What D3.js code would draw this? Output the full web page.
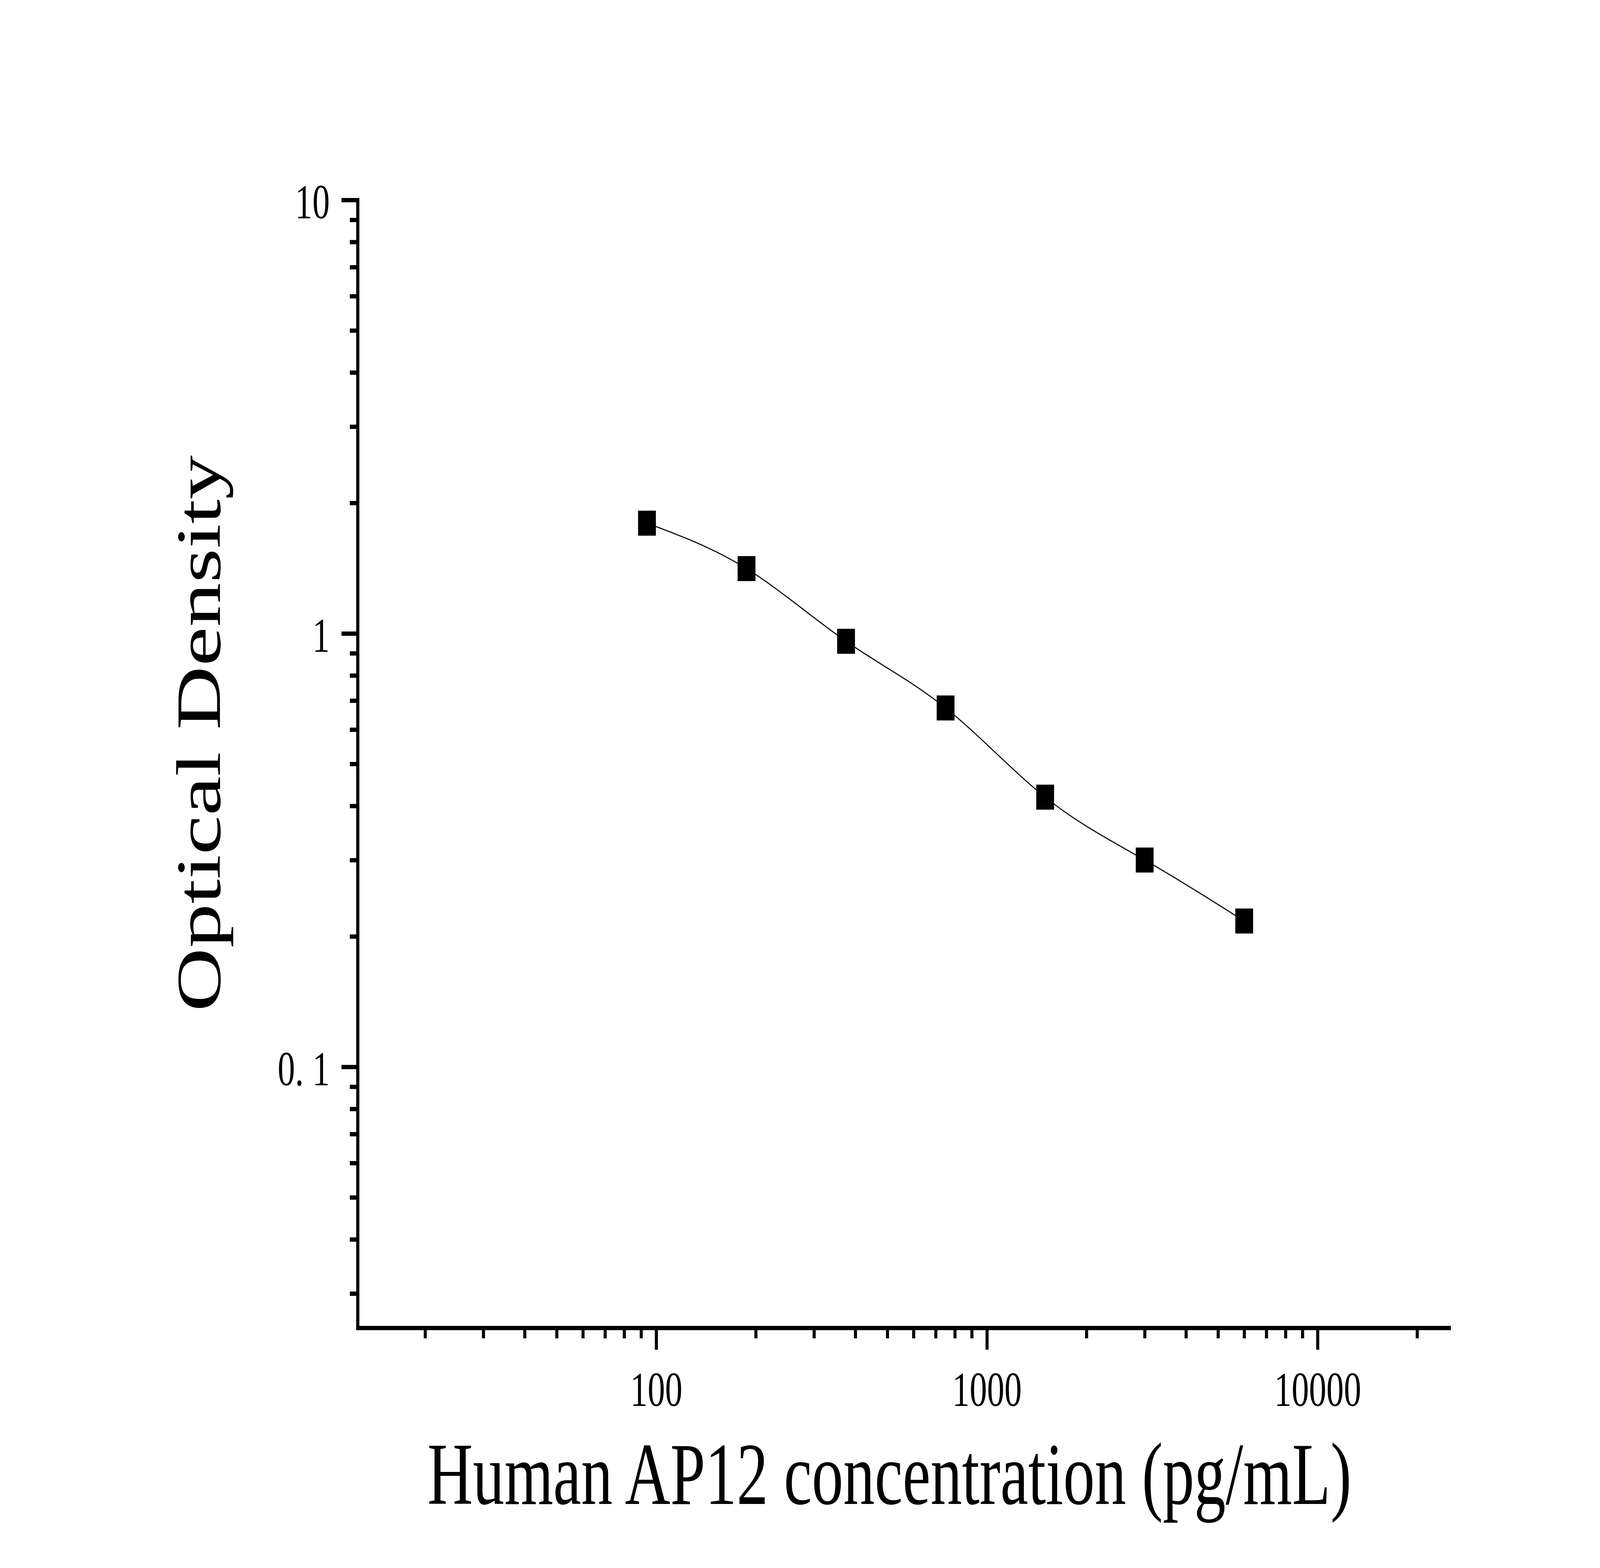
<!DOCTYPE html>
<html>
<head>
<meta charset="utf-8">
<script src="https://cdn.jsdelivr.net/npm/d3@7"></script>
<style>
  html, body { margin: 0; padding: 0; background: #fff; overflow: hidden; }
  text { font-family: "Liberation Serif", "Times New Roman", serif; fill: #000; }
</style>
</head>
<body>
<div class="container"></div>
<script>
const WIDTH = 5749;
const HEIGHT = 4015;

// standard curve points
var concentrations = [93.75, 187.5, 375, 750, 1500, 3000, 6000];
var densities = [1.796, 1.411, 0.959, 0.673, 0.419, 0.300, 0.217];

// ticks
var xMajorTicks = [100, 1000, 10000];
var xMajorLabels = ['100', '1000', '10000'];
var xMinorTicks = [20, 30, 40, 50, 60, 70, 80, 90,
  200, 300, 400, 500, 600, 700, 800, 900,
  2000, 3000, 4000, 5000, 6000, 7000, 8000, 9000, 20000];
var yMajorTicks = [0.1, 1, 10];
var yMajorLabels = ['0. 1', '1', '10'];
var yMinorTicks = [0.03, 0.04, 0.05, 0.06, 0.07, 0.08, 0.09,
  0.2, 0.3, 0.4, 0.5, 0.6, 0.7, 0.8, 0.9,
  2, 3, 4, 5, 6, 7, 8, 9];

var xTitle = 'Human AP12 concentration (pg/mL)';
var yTitle = 'Optical Density';

var display = function () {
  var svg = d3.select('.container').append('svg')
    .attr('viewBox', '0 0 ' + WIDTH + ' ' + HEIGHT)
    .attr('preserveAspectRatio', 'none')
    .style('width', '100vw')
    .style('height', '100vh')
    .style('display', 'block');

  svg.append('rect')
    .attr('width', WIDTH)
    .attr('height', HEIGHT)
    .attr('fill', '#fff');

  var x = d3.scaleLog().domain([12.5, 25000]).range([1285, 5207]);
  var y = d3.scaleLog().domain([0.025, 10]).range([3400, 512]);

  drawAxes(svg, x, y);
  drawCurve(svg, x, y);
  drawPoints(svg, x, y);
  drawTitles(svg);
}

var styleAxis = function (g) {
  g.select('.domain')
    .attr('stroke', '#000')
    .attr('stroke-width', 11)
    .attr('stroke-linecap', 'square');
  g.selectAll('.tick line')
    .attr('stroke', '#000')
    .attr('stroke-width', 11);
  g.selectAll('.tick text')
    .attr('fill', '#000')
    .style('font-size', '125px');
}

var drawAxes = function (svg, x, y) {
  var y0 = y.range()[0];
  var x0 = x.range()[0];

  // minor ticks first, majors on top with the domain line
  svg.append('g')
    .attr('transform', 'translate(0,' + y0 + ')')
    .call(d3.axisBottom(x).tickValues(xMinorTicks).tickFormat('').tickSize(27).tickSizeOuter(0))
    .call(styleAxis);

  svg.append('g')
    .attr('transform', 'translate(' + x0 + ',0)')
    .call(d3.axisLeft(y).tickValues(yMinorTicks).tickFormat('').tickSize(28).tickSizeOuter(0))
    .call(styleAxis);

  var gx = svg.append('g')
    .attr('transform', 'translate(0,' + y0 + ')')
    .call(d3.axisBottom(x).tickValues(xMajorTicks)
      .tickFormat(function (d, i) { return xMajorLabels[i]; })
      .tickSize(56).tickSizeOuter(0))
    .call(styleAxis);
  gx.selectAll('.tick text')
    .attr('y', 200)
    .attr('dy', null);

  var gy = svg.append('g')
    .attr('transform', 'translate(' + x0 + ',0)')
    .call(d3.axisLeft(y).tickValues(yMajorTicks)
      .tickFormat(function (d, i) { return yMajorLabels[i]; })
      .tickSize(58).tickPadding(42).tickSizeOuter(0))
    .call(styleAxis);
  gy.selectAll('.tick text')
    .attr('dy', '0.37em');
}

var drawCurve = function (svg, x, y) {
  var line = d3.line()
    .x(function (d, i) { return x(concentrations[i]); })
    .y(function (d) { return y(d); })
    .curve(d3.curveNatural);

  svg.append('path')
    .datum(densities)
    .attr('d', line)
    .attr('fill', 'none')
    .attr('stroke', '#000')
    .attr('stroke-width', 3);
}

var drawPoints = function (svg, x, y) {
  var size = 64;
  svg.append('g').selectAll('rect')
    .data(densities)
    .join('rect')
    .attr('x', function (d, i) { return x(concentrations[i]) - size / 2; })
    .attr('y', function (d) { return y(d) - size / 2; })
    .attr('width', size)
    .attr('height', size)
    .attr('fill', '#000');
}

var drawTitles = function (svg) {
  svg.append('text')
    .attr('x', 3196)
    .attr('y', 3851)
    .attr('text-anchor', 'middle')
    .style('font-size', '226px')
    .text(xTitle);

  svg.append('text')
    .attr('transform', 'translate(790,1878) rotate(-90)')
    .attr('text-anchor', 'middle')
    .style('font-size', '226px')
    .text(yTitle);
}

window.onload = display;
</script>
</body>
</html>
